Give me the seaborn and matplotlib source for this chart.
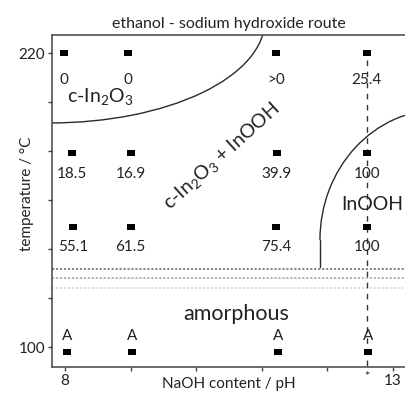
import numpy as np
import pandas as pd
import matplotlib
matplotlib.use("Agg")
import matplotlib.pyplot as plt
import seaborn as sns
from matplotlib.patches import Arc
from matplotlib.path import Path
from matplotlib.markers import MarkerStyle

# ---------------- data ----------------
temps = [220, 179, 149, 98]
ph_220 = [7.985, 8.96, 11.22, 12.60]
ph_179 = [8.11, 9.00, 11.23, 12.60]
ph_149 = [8.12, 9.00, 11.22, 12.60]
ph_98 = [8.03, 9.02, 11.25, 12.62]
labels_220 = ["0", "0", ">0", "25.4"]
labels_179 = ["18.5", "16.9", "39.9", "100"]
labels_149 = ["55.1", "61.5", "75.4", "100"]
labels_98 = ["A", "A", "A", "A"]

x_ticks = [8, 9, 10, 11, 12, 13]
x_ticklabels = ["8", "", "", "", "", "13"]
y_ticks = [100, 120, 140, 160, 180, 200, 220]
y_ticklabels = ["100", "", "", "", "", "", "220"]

region_names = ["c-In$_2$O$_3$", "c-In$_2$O$_3$ + InOOH", "InOOH", "amorphous"]
region_ph = [8.53, 10.39, 12.68, 10.61]
region_T = [200.0, 178.0, 155.9, 111.0]

# phase boundaries (ellipse arcs: centre pH, centre T, width pH, height T)
oxide_arc = (7.771, 233.5, 6.555, 84.1)
inooh_arc = (13.716, 143.7, 3.659, 106.4)
inooh_wall_ph = 11.887
inooh_wall_T = [143.7, 132.6]
amorphous_T = [131.9, 128.2, 124.1]
star_ph = 12.60
star_T = [217.0, 91.84]

rows = [(ph_220, 220, labels_220), (ph_179, 179, labels_179),
        (ph_149, 149, labels_149), (ph_98, 98, labels_98)]
df = pd.DataFrame({
    "pH": [p for r in rows for p in r[0]],
    "T": [r[1] for r in rows for _ in r[0]],
    "label": [l for r in rows for l in r[2]],
})

# ---------------- style ----------------
sns.set_theme(style="ticks")
plt.rcParams["font.family"] = ["Lato", "DejaVu Sans"]
plt.rcParams["mathtext.fontset"] = "custom"
plt.rcParams["mathtext.rm"] = "Lato"
plt.rcParams["mathtext.it"] = "Lato:italic"
plt.rcParams["mathtext.bf"] = "Lato:bold"

fig = plt.figure(figsize=(4.06, 3.93), dpi=100)
ax = fig.add_axes([52 / 406, 1 - 367 / 393, (406 - 52) / 406, (367 - 35) / 393])

rect = Path([(-1, -0.72), (1, -0.72), (1, 0.72), (-1, 0.72), (-1, -0.72)],
            [Path.MOVETO, Path.LINETO, Path.LINETO, Path.LINETO, Path.CLOSEPOLY])
sns.scatterplot(data=df, x="pH", y="T", marker=MarkerStyle(rect), s=36,
                color="black", linewidth=0, ax=ax, zorder=5)

# labels
offsets = {220: -19.5, 179: -14.5, 149: -14.5, 98: 11.5}
for _, r in df.iterrows():
    ax.annotate(r["label"], xy=(r["pH"], r["T"]), xytext=(0, offsets[r["T"]]),
                textcoords="offset points", ha="center", va="center",
                fontsize=11, color="#222222")

# boundaries
cx, cy, w, h = oxide_arc
ax.add_patch(Arc((cx, cy), w, h, theta1=270, theta2=360, color="#2a2a2a", lw=1.0))
cx, cy, w, h = inooh_arc
ax.add_patch(Arc((cx, cy), w, h, theta1=90, theta2=180, color="#2a2a2a", lw=1.0))
ax.plot([inooh_wall_ph, inooh_wall_ph], inooh_wall_T, color="#2a2a2a", lw=1.0)

for T, c in zip(amorphous_T, ["#7a7a7a", "#b0b0b0", "#dadada"]):
    ax.axhline(T, color=c, lw=1.3, linestyle=(0, (1.2, 1.0)), zorder=1)

ax.plot([star_ph, star_ph], star_T, color="#333333", lw=1.0,
        linestyle=(0, (4, 4)), zorder=2, clip_on=False)
ax.annotate("*", xy=(star_ph, 0), xycoords=("data", "axes fraction"),
            xytext=(0, -3), textcoords="offset points", ha="center", va="top",
            fontsize=9, color="#222222")

# region names
ax.text(region_ph[0], region_T[0], region_names[0], ha="center", va="baseline",
        fontsize=14, color="#222222")
ax.text(region_ph[1], region_T[1], region_names[1], ha="center", va="center",
        rotation=42, rotation_mode="anchor", fontsize=14, color="#222222")
ax.text(region_ph[2], region_T[2], region_names[2], ha="center", va="baseline",
        fontsize=14, color="#222222")
ax.text(region_ph[3], region_T[3], region_names[3], ha="center", va="baseline",
        fontsize=15.5, color="#222222")

# axes
ax.set_xlim(7.802, 13.198)
ax.set_ylim(91.84, 227.35)
ax.set_xticks(x_ticks)
ax.set_xticklabels(x_ticklabels)
ax.set_yticks(y_ticks)
ax.set_yticklabels(y_ticklabels)
ax.tick_params(axis="both", length=3, width=1, color="#444444", labelsize=11,
               labelcolor="#222222", pad=2)
ax.spines["right"].set_visible(False)
for s in ["left", "bottom", "top"]:
    ax.spines[s].set_color("#444444")
    ax.spines[s].set_linewidth(1.1)
ax.set_xlabel("NaOH content / pH", fontsize=11, color="#222222")
ax.set_ylabel("temperature / °C", fontsize=11, color="#222222")
ax.xaxis.set_label_coords(0.5, -0.030)
ax.yaxis.set_label_coords(-0.050, 0.521)
ax.set_title("ethanol - sodium hydroxide route", fontsize=11.5, color="#222222", pad=5)

fig.savefig("out.png", dpi=100)
